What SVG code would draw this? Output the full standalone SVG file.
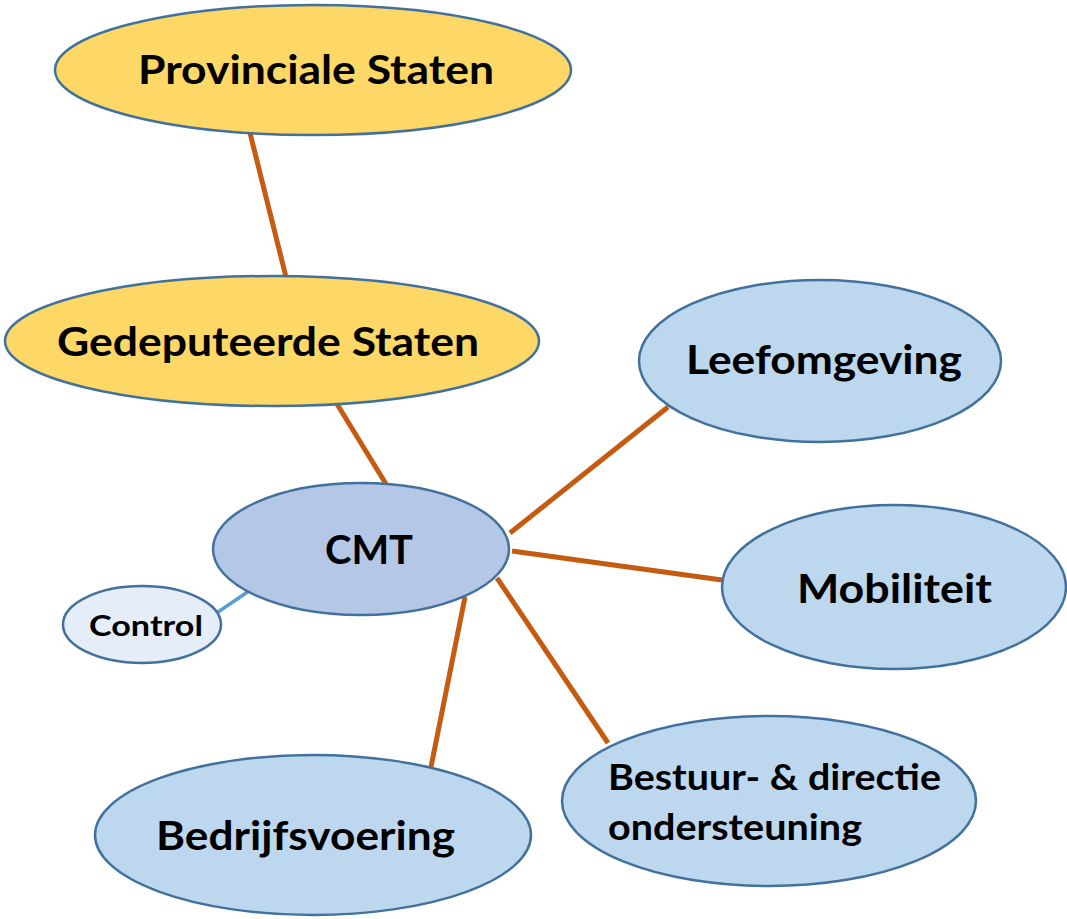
<svg xmlns="http://www.w3.org/2000/svg" width="1067" height="919" viewBox="0 0 1067 919">
<style>
.n{stroke:#41719C;stroke-width:2.5}
.y{fill:#FDD866}
.b{fill:#BDD7EE}
.c{fill:#B4C7E7}
.l{fill:#E4EDF8}
.e{stroke:#C55A11;stroke-width:5;fill:none}
.eb{stroke:#5B9BD5;stroke-width:3.5;fill:none}
text{font-family:Lato,"Liberation Sans",sans-serif;font-weight:bold;fill:#000}
.t{font-size:40px}
</style>
<rect width="1067" height="919" fill="#fff"/>
<g id="connectors">
<line class="e" x1="250" y1="133" x2="286" y2="277"/>
<line class="e" x1="337" y1="404" x2="386" y2="484"/>
<line class="e" x1="510" y1="533" x2="668" y2="407"/>
<line class="e" x1="512" y1="551" x2="722" y2="580"/>
<line class="e" x1="497" y1="578" x2="608" y2="743"/>
<line class="e" x1="465" y1="597" x2="430" y2="772"/>
<line class="eb" x1="218" y1="612" x2="249" y2="591"/>
</g>
<g id="provinciale-staten">
<ellipse class="n y" cx="313" cy="70" rx="258" ry="65"/>
<text class="t" x="138" y="84" textLength="356" lengthAdjust="spacingAndGlyphs">Provinciale Staten</text>
</g>
<g id="gedeputeerde-staten">
<ellipse class="n y" cx="272" cy="341" rx="267" ry="65"/>
<text class="t" x="57" y="356" textLength="422" lengthAdjust="spacingAndGlyphs">Gedeputeerde Staten</text>
</g>
<g id="cmt">
<ellipse class="n c" cx="361" cy="549" rx="148" ry="66"/>
<text class="t" x="325" y="564" textLength="88" lengthAdjust="spacingAndGlyphs">CMT</text>
</g>
<g id="control">
<ellipse class="n l" cx="142" cy="624.5" rx="79" ry="38.5"/>
<text x="89" y="636" font-size="28" textLength="114" lengthAdjust="spacingAndGlyphs">Control</text>
</g>
<g id="leefomgeving">
<ellipse class="n b" cx="820" cy="361" rx="181" ry="81"/>
<text class="t" x="686" y="374" textLength="276" lengthAdjust="spacingAndGlyphs">Leefomgeving</text>
</g>
<g id="mobiliteit">
<ellipse class="n b" cx="894" cy="587" rx="172" ry="82"/>
<text class="t" x="797" y="603" textLength="195" lengthAdjust="spacingAndGlyphs">Mobiliteit</text>
</g>
<g id="bestuur">
<ellipse class="n b" cx="769" cy="801" rx="207" ry="85"/>
<text x="608" y="790" font-size="36" textLength="333" lengthAdjust="spacingAndGlyphs">Bestuur- &amp; directie</text>
<text x="608" y="840" font-size="36" textLength="254" lengthAdjust="spacingAndGlyphs">ondersteuning</text>
</g>
<g id="bedrijfsvoering">
<ellipse class="n b" cx="313" cy="835" rx="218" ry="80"/>
<text class="t" x="156" y="850" textLength="299" lengthAdjust="spacingAndGlyphs">Bedrijfsvoering</text>
</g>
</svg>
